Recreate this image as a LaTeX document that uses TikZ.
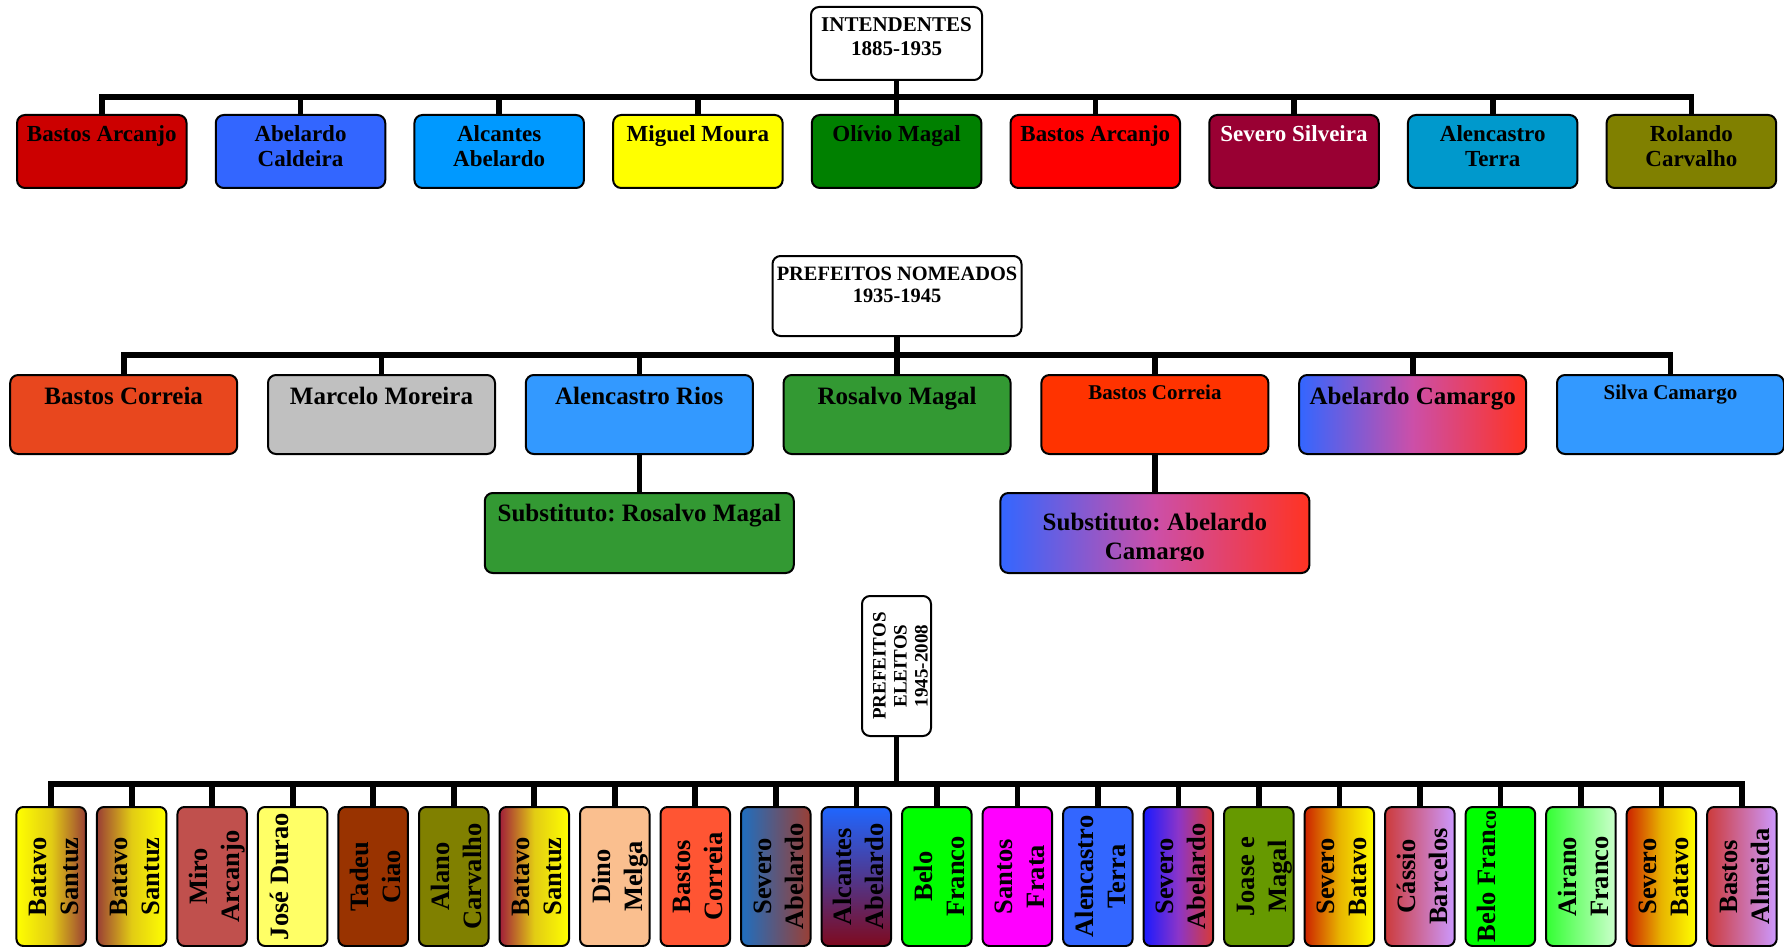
\documentclass[tikz,border=0pt]{standalone}
\usepackage{fontspec}
\setmainfont{Liberation Serif}
\frenchspacing
\usetikzlibrary{positioning,calc}

% intendentes
\definecolor{tA}{HTML}{CC0000}
\definecolor{tB}{HTML}{3366FF}
\definecolor{tC}{HTML}{0099FF}
\definecolor{tD}{HTML}{FFFF00}
\definecolor{tE}{HTML}{008000}
\definecolor{tF}{HTML}{FF0000}
\definecolor{tG}{HTML}{990033}
\definecolor{tH}{HTML}{0099CC}
\definecolor{tI}{HTML}{808000}
% nomeados
\definecolor{nRed}{HTML}{E8471E}
\definecolor{nGray}{HTML}{C0C0C0}
\definecolor{nBlue}{HTML}{3399FF}
\definecolor{nGreen}{HTML}{339933}
\definecolor{nOrange}{HTML}{FF3300}
\definecolor{gBlue}{HTML}{3366FF}
\definecolor{gPink}{HTML}{CC4FA8}
\definecolor{gRed}{HTML}{FF3322}
% eleitos
\definecolor{eBrown}{HTML}{9A3F35}
\definecolor{eYmid}{HTML}{E2CC14}
\definecolor{eCrim}{HTML}{A01D3A}
\definecolor{eMiro}{HTML}{C0504D}
\definecolor{eJose}{HTML}{FFFF66}
\definecolor{eTadeu}{HTML}{993300}
\definecolor{eOlive}{HTML}{808000}
\definecolor{ePeach}{HTML}{FABF8F}
\definecolor{eBastos}{HTML}{FF5533}
\definecolor{eSteel}{HTML}{1F6FC0}
\definecolor{eTopB}{HTML}{1F66FF}
\definecolor{eBotR}{HTML}{7F0A1F}
\definecolor{eLime}{HTML}{00FF00}
\definecolor{eMag}{HTML}{FF00FF}
\definecolor{eBlue}{HTML}{3366FF}
\definecolor{eDeep}{HTML}{1A1AFF}
\definecolor{ePurp}{HTML}{8C35C8}
\definecolor{eRed}{HTML}{D83B36}
\definecolor{eJoase}{HTML}{669900}
\definecolor{eRust}{HTML}{CC2200}
\definecolor{eAmber}{HTML}{E8B400}
\definecolor{eRose}{HTML}{CC3B3B}
\definecolor{eLilac}{HTML}{CC99FF}
\definecolor{eGreen}{HTML}{33FF33}
\definecolor{ePale}{HTML}{CCFFCC}

\begin{document}
\begin{tikzpicture}[x=0.5pt, y=-0.5pt,
    link/.style = {line width=2.8pt},
    card/.style = {draw, line width=1pt, rounded corners=4pt, inner sep=0pt},
    hbox/.style = {card, fill=white},
    tbox/.style = {card, minimum width=84.75pt, minimum height=36.5pt},
    mbox/.style = {card, minimum width=113.5pt, minimum height=39.5pt},
    sbox/.style = {card, minimum width=154.5pt, minimum height=40pt},
    bbox/.style = {card, minimum width=34.75pt, minimum height=69.5pt, rounded corners=3.5pt},
     lab/.style = {anchor=north, align=center, inner sep=0pt, outer sep=0pt},
    hlab/.style = {lab, font=\fontsize{10.5}{12}\selectfont\bfseries},
    tlab/.style = {lab, font=\fontsize{11.5}{13}\selectfont\bfseries},
    mlab/.style = {lab, font=\fontsize{12.5}{13.5}\selectfont\bfseries},
    slab/.style = {lab, font=\fontsize{10.5}{12}\selectfont\bfseries},
    elab/.style = {lab, rotate=90, font=\fontsize{9.5}{10.5}\selectfont\bfseries},
    blab/.style = {lab, rotate=90, font=\fontsize{13.25}{16}\selectfont\bfseries},
    % fills of the middle row
    mA/.style = {fill=nRed},
    mB/.style = {fill=nGray},
    mC/.style = {fill=nBlue},
    mD/.style = {fill=nGreen},
    mE/.style = {fill=nOrange},
    mF/.style = {left color=gBlue, right color=gRed, middle color=gPink},
    % fills of the bottom row
    bYB/.style = {left color=yellow, right color=eBrown, middle color=eYmid},
    bBY/.style = {left color=eBrown, right color=yellow, middle color=eYmid},
    bCY/.style = {left color=eCrim, right color=yellow, middle color=eYmid},
    bMiro/.style = {fill=eMiro},
    bJose/.style = {fill=eJose},
    bTadeu/.style = {fill=eTadeu},
    bOlive/.style = {fill=eOlive},
    bPeach/.style = {fill=ePeach},
    bBastos/.style = {fill=eBastos},
    bSteel/.style = {left color=eSteel, right color=eBrown},
    bTopB/.style = {top color=eTopB, bottom color=eBotR},
    bLime/.style = {fill=eLime},
    bMag/.style = {fill=eMag},
    bBlue/.style = {fill=eBlue},
    bDeep/.style = {left color=eDeep, right color=eRed, middle color=ePurp},
    bJoase/.style = {fill=eJoase},
    bRust/.style = {left color=eRust, right color=yellow, middle color=eAmber},
    bRose/.style = {left color=eRose, right color=eLilac},
    bGreen/.style = {left color=eGreen, right color=ePale}
  ]
\useasboundingbox (0,0) rectangle (1784,947);

% INTENDENTES 1885-1935
\node[hbox, minimum width=85.5pt, minimum height=36.5pt] (int) at (896.5,43.5) {};
\node[hlab] (intl) at (int.north) {\rule{0pt}{13pt}INTENDENTES\\1885-1935};
\coordinate (tbus) at (896.5,97);
\foreach \c/\f/\t [count=\i] in {tA/black/{Bastos Arcanjo}, tB/black/{Abelardo\\Caldeira},
    tC/black/{Alcantes\\Abelardo}, tD/black/{Miguel Moura}, tE/black/{Olívio Magal},
    tF/black/{Bastos Arcanjo}, tG/white/{Severo Silveira}, tH/black/{Alencastro\\Terra},
    tI/black/{Rolando\\Carvalho}}
{
  \node[tbox, fill=\c] (t\i) at ({101.8+198.7*(\i-1)},151.5) {};
  \node[tlab, text=\f] (tl\i) at (t\i.north) {\rule{0pt}{13.5pt}\t};
  \draw[link] (int.south) -- (int.south |- tbus) -| (t\i.north);
}

% PREFEITOS NOMEADOS 1935-1945
\node[hbox, minimum width=124.5pt, minimum height=40pt] (nom) at (897,296) {};
\node[hlab, font=\fontsize{10.2}{11}\selectfont\bfseries] (noml) at (nom.north)
  {\rule{0pt}{12.5pt}PREFEITOS NOMEADOS\\1935-1945};
\coordinate (mbus) at (897,355);
\foreach \s/\l/\d/\t [count=\i] in {mA/mlab/15/{Bastos Correia}, mB/mlab/15/{Marcelo Moreira},
    mC/mlab/15/{Alencastro Rios}, mD/mlab/15/{Rosalvo Magal}, mE/slab/12.5/{Bastos Correia},
    mF/mlab/15/{Abelardo Camargo}, mC/slab/12.5/{Silva Camargo}}
{
  \node[mbox, \s] (m\i) at ({123.7+257.8*(\i-1)},414.5) {};
  \node[\l] (ml\i) at (m\i.north) {\rule{0pt}{\d pt}\t};
  \draw[link] (nom.south) -- (nom.south |- mbus) -| (m\i.north);
}
% substitutos
\node[sbox, mD] (s1) at (639.3,533) {};
\node[mlab] (sl1) at (s1.north) {\rule{0pt}{14.5pt}Substituto: Rosalvo Magal};
\node[sbox, mF] (s2) at (1154.9,533) {};
\begin{scope}
  \clip (s2.north west) rectangle ([yshift=7pt]s2.south east);
  \node[mlab, font=\fontsize{12.5}{14.5}\selectfont\bfseries] (sl2) at (s2.north)
    {\rule{0pt}{19pt}Substituto: Abelardo\\Camargo};
\end{scope}
\draw[link] (m3) -- (s1);
\draw[link] (m5) -- (s2);

% PREFEITOS ELEITOS 1945-2008
\node[hbox, minimum width=34.5pt, minimum height=70pt] (ele) at (896.5,666) {};
\node[elab] (elel) at ([xshift=-14.5pt]ele.center) {\rule{0pt}{9pt}PREFEITOS\\ELEITOS\\1945-2008};
\coordinate (bbus) at (896.5,784);
\foreach \s/\t [count=\i] in {bYB/{Batavo\\Santuz}, bBY/{Batavo\\Santuz}, bMiro/{Miro\\Arcanjo},
    bJose/{José Durao}, bTadeu/{Tadeu\\Ciao}, bOlive/{Alano\\Carvalho}, bCY/{Batavo\\Santuz},
    bPeach/{Dino\\Melga}, bBastos/{Bastos\\Correia}, bSteel/{Severo\\Abelardo},
    bTopB/{Alcantes\\Abelardo}, bLime/{Belo\\Franco}, bMag/{Santos\\Frata},
    bBlue/{Alencastro\\Terra}, bDeep/{Severo\\Abelardo}, bJoase/{Joase e\\Magal},
    bRust/{Severo\\Batavo}, bRose/{Cássio\\Barcelos},
    bLime/{Belo Fran{\fontsize{10}{12}\selectfont co}}, bGreen/{Airano\\Franco},
    bRust/{Severo\\Batavo}, bRose/{Bastos\\Almeida}}
{
  \node[bbox, \s] (b\i) at ({51.2+80.51*(\i-1)},876.5) {};
  \node[blab] (bl\i) at ([xshift=-12.25pt]b\i.center) {\rule{0pt}{10pt}\t};
  \draw[link] (ele.south) -- (ele.south |- bbus) -| (b\i.north);
}
\end{tikzpicture}
\end{document}
